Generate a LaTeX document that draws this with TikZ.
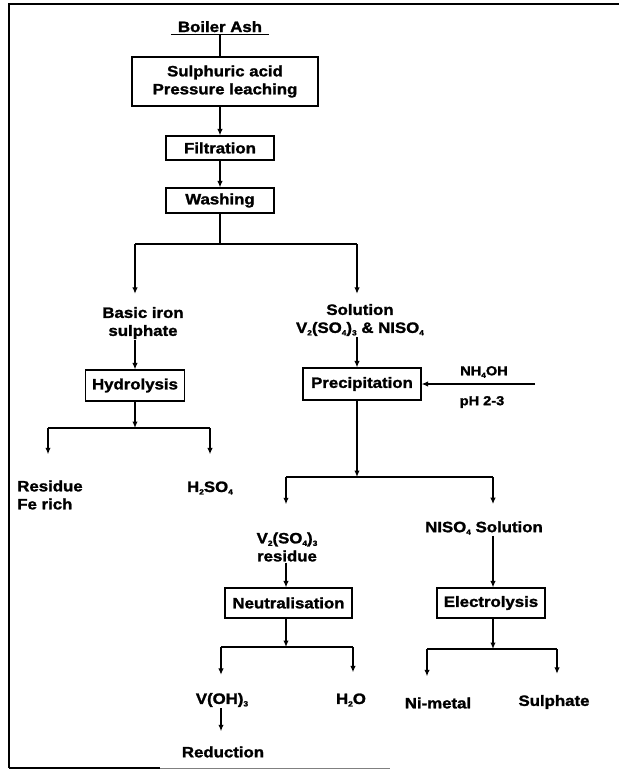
\documentclass[tikz,border=0pt]{standalone}
\usepackage{fontspec}
\setmainfont{Liberation Sans}[FakeStretch=1.12, BoldFeatures={FakeBold=1.6}]
\usetikzlibrary{arrows.meta}
\newcommand{\chs}[1]{\raisebox{-2.5pt}{\fontsize{7.5}{7.5}\selectfont #1}}
\begin{document}
\begin{tikzpicture}[x=1pt,y=-1pt,
  font=\fontsize{15}{18}\selectfont\bfseries,
  every node/.style={inner sep=1pt},
  lbl/.style={align=center},
  smalllbl/.style={font=\fontsize{13}{15}\selectfont\bfseries},
  box/.style={draw, line width=1.1pt, inner sep=0pt, align=center},
  conn/.style={line width=1.3pt},
  arr/.style={conn, -{Latex[length=6.5pt,width=5.5pt]}},
  gap/.style={shorten >=#1}]
\useasboundingbox (0,0) rectangle (619,771);
% frame
\draw[line width=2.5pt] (9,768) -- (9,4) -- (619,4);
\draw[line width=2pt] (9,768) -- (160,768);
\draw[line width=0.8pt, gray] (160,768) -- (390,768);

% top chain
\node[lbl, inner xsep=7pt, inner ysep=2pt, anchor=base] (ash) at (220,32) {Boiler Ash};
\draw[conn] (ash.south west) -- (ash.south east);
\node[box, minimum width=186pt, minimum height=49pt] (leach) at (225,81.5) {Sulphuric acid\\Pressure leaching};
\draw[conn] (ash.south) -- (ash.south |- leach.north);
\node[box, minimum width=108pt, minimum height=24pt] (filt) at (220,148) {Filtration};
\node[box, minimum width=108pt, minimum height=25pt] (wash) at (220,200.5) {Washing};
\draw[arr] (leach.south -| filt.north) -- (filt.north);
\draw[arr] (filt) -- (wash);

% first split
\coordinate (j1) at (220,244);
\coordinate (j1L) at (135,244);
\coordinate (j1R) at (357,244);
\draw[conn] (wash.south) -- (j1);
\draw[conn] (j1L) -- (j1R);
\node[lbl] (basic) at (143,323) {Basic iron\\sulphate};
\node[lbl] (sol) at (360,320) {Solution\\V\chs{2}(SO\chs{4})\chs{3} \& NISO\chs{4}};
\draw[arr, gap=12pt] (j1L) -- (j1L |- basic.north);
\draw[arr, gap=9pt] (j1R) -- (j1R |- sol.north);

% left branch
\node[box, minimum width=99pt, minimum height=31pt] (hydro) at (135,385.5) {Hydrolysis};
\draw[arr] (basic.south -| hydro.north) -- (hydro.north);
\coordinate (j2) at (135,428);
\coordinate (j2L) at (48,428);
\coordinate (j2R) at (210,428);
\draw[arr] (hydro.south) -- (j2);
\draw[conn] (j2L) -- (j2R);
\node[lbl, align=left] (resid) at (50,495) {Residue\\Fe rich};
\node[lbl] (h2so4) at (210,488) {H\chs{2}SO\chs{4}};
\draw[arr, gap=25pt] (j2L) -- (j2L |- resid.north);
\draw[arr, gap=26pt] (j2R) -- (j2R |- h2so4.north);

% right branch
\node[box, minimum width=118pt, minimum height=32pt] (precip) at (362,384) {Precipitation};
\draw[arr] (sol.south -| j1R) -- (j1R |- precip.north);
\coordinate (nh) at (535,384);
\draw[arr] (nh) -- (precip.east);
\node[smalllbl] (nh4oh) at (484,372) {NH\chs{4}OH};
\node[smalllbl] (ph) at (482,402) {pH 2-3};

\coordinate (j3) at (357,477);
\coordinate (j3L) at (286,477);
\coordinate (j3R) at (493,477);
\draw[arr] (precip.south -| j3) -- (j3);
\draw[conn] (j3L) -- (j3R);
\node[lbl] (vres) at (287,547) {V\chs{2}(SO\chs{4})\chs{3}\\residue};
\node[lbl] (nisol) at (484,528) {NISO\chs{4} Solution};
\draw[arr, gap=27pt] (j3L) -- (j3L |- vres.north);
\draw[arr, gap=16pt] (j3R) -- (j3R |- nisol.north);

\node[box, minimum width=127pt, minimum height=30pt] (neut) at (288.5,603) {Neutralisation};
\node[box, minimum width=108pt, minimum height=30pt] (elec) at (491,603) {Electrolysis};
\draw[arr] (vres.south -| j3L) -- (j3L |- neut.north);
\draw[arr] (nisol.south -| j3R) -- (j3R |- elec.north);

% neutralisation split
\coordinate (j4) at (286,647);
\coordinate (j4L) at (221,647);
\coordinate (j4R) at (353,647);
\draw[arr] (neut.south -| j4) -- (j4);
\draw[conn] (j4L) -- (j4R);
\node[lbl] (voh) at (222,700) {V(OH)\chs{3}};
\node[lbl] (h2o) at (351,700) {H\chs{2}O};
\draw[arr, gap=17pt] (j4L) -- (j4L |- voh.north);
\draw[arr, gap=20pt] (j4R) -- (j4R |- h2o.north);
\node[lbl] (red) at (223,752) {Reduction};
\draw[arr, gap=14pt] (voh.south -| j4L) -- (j4L |- red.north);

% electrolysis split
\coordinate (j5) at (493,649);
\coordinate (j5L) at (427,649);
\coordinate (j5R) at (557,649);
\draw[arr] (elec.south -| j5) -- (j5);
\draw[conn] (j5L) -- (j5R);
\node[lbl] (nim) at (438,703) {Ni-metal};
\node[lbl] (sulph) at (554,702) {Sulphate};
\draw[arr, gap=20pt] (j5L) -- (j5L |- nim.north);
\draw[arr, gap=20pt] (j5R) -- (j5R |- sulph.north);
\end{tikzpicture}
\end{document}
